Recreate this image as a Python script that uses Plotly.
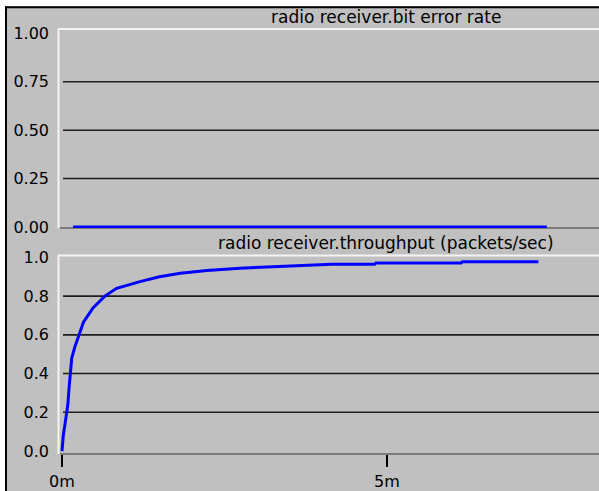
import plotly.graph_objects as go

# ---- data ----
ber_time_min = [0.17, 7.46]
ber_values = [0.0, 0.0]

thr_time_min = [0.0, 0.02, 0.06, 0.09, 0.11, 0.13, 0.15, 0.20, 0.26, 0.33, 0.48, 0.66, 0.84,
                1.20, 1.50, 1.82, 2.23, 2.74, 3.25, 3.76, 4.15, 4.81, 4.83, 6.14, 6.16, 7.33]
thr_values = [0.0, 0.08, 0.17, 0.24, 0.33, 0.41, 0.48, 0.54, 0.60, 0.665, 0.74, 0.80, 0.84,
              0.875, 0.90, 0.918, 0.932, 0.944, 0.952, 0.957, 0.964, 0.964, 0.971, 0.971, 0.978, 0.978]

ber_ticks = [0.0, 0.25, 0.5, 0.75, 1.0]
ber_ticktext = ["0.00", "0.25", "0.50", "0.75", "1.00"]
thr_ticks = [0.0, 0.2, 0.4, 0.6, 0.8, 1.0]
thr_ticktext = ["0.0", "0.2", "0.4", "0.6", "0.8", "1.0"]
x_ticks = [0, 5]
x_ticktext = ["0m", "5m"]

title_top = "radio receiver.bit error rate"
title_bottom = "radio receiver.throughput (packets/sec)"

# ---- layout constants ----
W, H = 599, 491
ML, MR, MT, MB = 59, 0, 29, 34
PH = H - MT - MB
PW = W - ML - MR

def py(p):  # pixel y -> paper y
    return (H - MB - p) / PH

def px(p):  # pixel x -> paper x
    return (p - ML) / PW

top_dom = [py(229.5), 1.0]
bot_dom = [0.0, py(257)]
xr = [-0.046, 8.262]

FONT = "DejaVu Sans"
BG = "#c0c0c0"
BLUE = "#0000ff"
GRID = "#1e1e1e"

fig = go.Figure()
fig.add_trace(go.Scatter(x=ber_time_min, y=ber_values, mode="lines",
                         line=dict(color=BLUE, width=3), xaxis="x", yaxis="y",
                         showlegend=False, hoverinfo="skip"))
fig.add_trace(go.Scatter(x=thr_time_min, y=thr_values, mode="lines",
                         line=dict(color=BLUE, width=3), xaxis="x2", yaxis="y2",
                         showlegend=False, hoverinfo="skip"))

shapes = []
# outer frame (white strips + black border on top and left)
shapes.append(dict(type="rect", xref="paper", yref="paper", x0=-0.3, x1=1.2,
                   y0=py(6), y1=1.3, fillcolor="white", line=dict(width=0), layer="below"))
shapes.append(dict(type="rect", xref="paper", yref="paper", x0=-0.3, x1=px(5),
                   y0=-0.3, y1=1.3, fillcolor="white", line=dict(width=0), layer="below"))
shapes.append(dict(type="line", xref="paper", yref="paper", x0=px(5), x1=1.2,
                   y0=py(7), y1=py(7), line=dict(color="black", width=2), layer="below"))
shapes.append(dict(type="line", xref="paper", yref="paper", x0=px(6), x1=px(6),
                   y0=-0.3, y1=py(6), line=dict(color="black", width=2), layer="below"))

# panel frames: white top/left, gray bottom
for dom in (top_dom, bot_dom):
    shapes.append(dict(type="line", xref="paper", yref="paper", x0=px(58.5), x1=px(58.5),
                       y0=dom[0], y1=dom[1], line=dict(color="#f4f4f4", width=2), layer="below"))
    shapes.append(dict(type="line", xref="paper", yref="paper", x0=px(58), x1=1.0,
                       y0=dom[1], y1=dom[1], line=dict(color="#f4f4f4", width=2), layer="below"))
    shapes.append(dict(type="line", xref="paper", yref="paper", x0=px(60), x1=1.0,
                       y0=dom[0], y1=dom[0], line=dict(color="#7a7a7a", width=2), layer="below"))

# gridlines (inner ticks only)
for v in ber_ticks[1:-1]:
    shapes.append(dict(type="line", xref="paper", yref="y", x0=px(63), x1=1.0, y0=v, y1=v,
                       line=dict(color=GRID, width=1.6), layer="below"))
for v in thr_ticks[1:-1]:
    shapes.append(dict(type="line", xref="paper", yref="y2", x0=px(63), x1=1.0, y0=v, y1=v,
                       line=dict(color=GRID, width=1.6), layer="below"))

annotations = [
    dict(text=title_top, xref="paper", yref="paper", x=px(386), y=py(17),
         xanchor="center", yanchor="middle", showarrow=False,
         font=dict(family=FONT, size=17, color="black")),
    dict(text=title_bottom, xref="paper", yref="paper", x=px(386), y=py(245),
         xanchor="center", yanchor="middle", showarrow=False,
         font=dict(family=FONT, size=17, color="black")),
]

tickfont = dict(family=FONT, size=16, color="black")

fig.update_layout(
    width=W, height=H, autosize=False,
    margin=dict(l=ML, r=MR, t=MT, b=MB, pad=0),
    paper_bgcolor=BG, plot_bgcolor="rgba(0,0,0,0)",
    showlegend=False,
    shapes=shapes, annotations=annotations,
    xaxis=dict(domain=[0, 1], range=xr, anchor="y", showticklabels=False, ticks="",
               showgrid=False, zeroline=False, showline=False, fixedrange=True),
    yaxis=dict(domain=top_dom, range=[-0.006, 1.023], anchor="x",
               tickvals=ber_ticks, ticktext=ber_ticktext, tickfont=tickfont, ticks="",
               ticklabelstandoff=9, showgrid=False, zeroline=False, showline=False),
    xaxis2=dict(domain=[0, 1], range=xr, anchor="y2",
                tickvals=x_ticks, ticktext=x_ticktext, tickfont=tickfont,
                ticks="outside", ticklen=12, tickwidth=2, tickcolor="black",
                ticklabelstandoff=1,
                showgrid=False, zeroline=False, showline=False),
    yaxis2=dict(domain=bot_dom, range=[-0.0154, 1.0102], anchor="x2",
                tickvals=thr_ticks, ticktext=thr_ticktext, tickfont=tickfont, ticks="",
                ticklabelstandoff=9, showgrid=False, zeroline=False, showline=False),
)

fig.write_html(
    "out.html",
    config={"displayModeBar": False},
    post_script="document.body.style.margin='0';document.body.style.overflow='hidden';",
)
